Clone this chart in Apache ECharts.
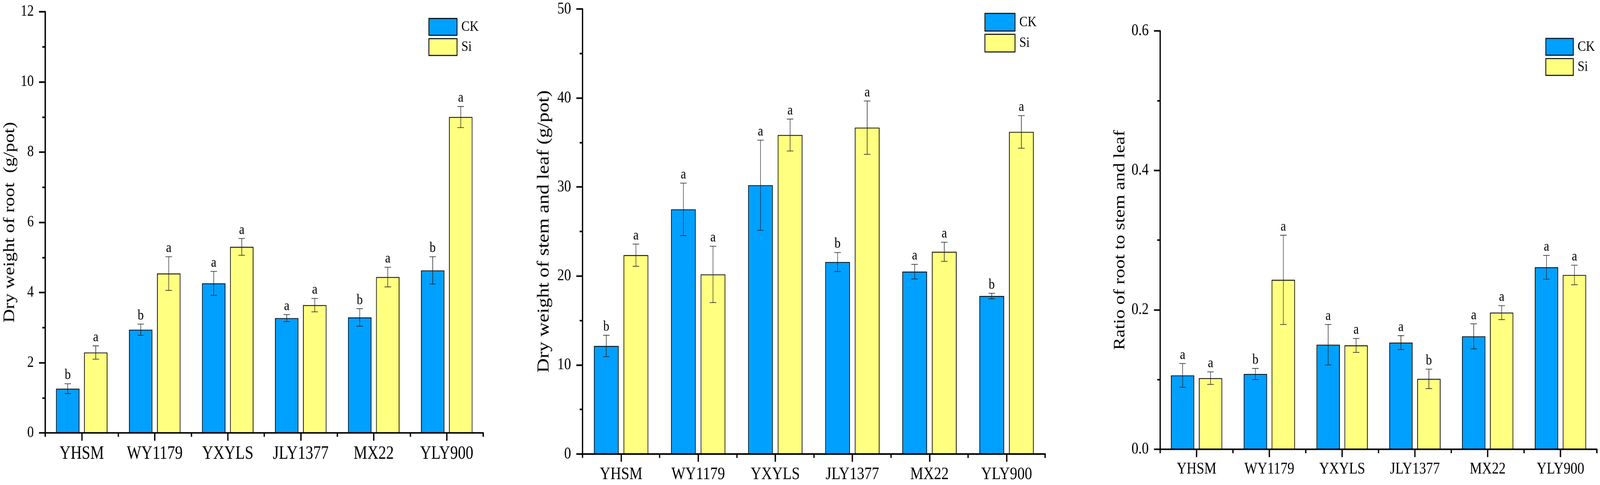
<!DOCTYPE html>
<html>
<head>
<meta charset="utf-8">
<script src="https://cdn.jsdelivr.net/npm/echarts@6/dist/echarts.min.js"></script>
<style>
html,body{margin:0;padding:0;background:#fff;overflow:hidden;}
#wrap{position:fixed;left:0;top:0;width:100vw;height:100vh;overflow:hidden;}
#chart{width:4881px;height:1241px;transform-origin:0 0;}
</style>
</head>
<body>
<div id="wrap"><div id="chart"></div></div>
<script>
const categories = ['YHSM','WY1179','YXYLS','JLY1377','MX22','YLY900'];
const seriesNames = ['CK','Si'];

const rootCK = [1.26, 2.94, 4.26, 3.27, 3.29, 4.63];
const rootCKErr = [0.14, 0.16, 0.34, 0.10, 0.25, 0.39];
const rootSi = [2.29, 4.54, 5.30, 3.64, 4.44, 9.00];
const rootSiErr = [0.19, 0.48, 0.24, 0.19, 0.28, 0.30];
const rootCKSig = ['b','b','a','a','b','b'];
const rootSiSig = ['a','a','a','a','a','a'];

const stemCK = [12.14, 27.49, 30.20, 21.57, 20.49, 17.75];
const stemCKErr = [1.20, 2.95, 5.06, 1.07, 0.82, 0.31];
const stemSi = [22.34, 20.18, 35.84, 36.67, 22.72, 36.19];
const stemSiErr = [1.25, 3.17, 1.80, 3.00, 1.08, 1.83];
const stemCKSig = ['b','a','a','b','a','b'];
const stemSiSig = ['a','a','a','a','a','a'];

const ratioCK = [0.106, 0.108, 0.150, 0.153, 0.162, 0.261];
const ratioCKErr = [0.017, 0.008, 0.029, 0.010, 0.018, 0.017];
const ratioSi = [0.102, 0.243, 0.149, 0.101, 0.196, 0.250];
const ratioSiErr = [0.009, 0.064, 0.010, 0.014, 0.010, 0.014];
const ratioCKSig = ['a','b','a','a','a','a'];
const ratioSiSig = ['a','a','a','b','a','a'];

const yTitles = ['Dry weight of root  (g/pot)', 'Dry weight of stem and leaf (g/pot)', 'Ratio of root to stem and leaf'];
const yMax = [12, 50, 0.6];
const yInterval = [2, 10, 0.2];

const FONT = '"Liberation Serif", "Times New Roman", serif';
const COLORS = ['#00A0FF', '#FFFF80'];
const BAR_W = 0.32, BAR_GAP = 0.2;

const panels = [
  {ck: rootCK, ckE: rootCKErr, si: rootSi, siE: rootSiErr, ckS: rootCKSig, siS: rootSiSig,
   grid: {left:138, top:30, width:1336, height:1077}, tick:40, xl:47, name:48, nameGap:84,
   legend:{left:1307, top:46, w:86, h:43}, fmt: v => String(v)},
  {ck: stemCK, ckE: stemCKErr, si: stemSi, siE: stemSiErr, ckS: stemCKSig, siS: stemSiSig,
   grid: {left:1777, top:23, width:1411, height:1138}, tick:42, xl:45, name:51, nameGap:92,
   legend:{left:3003, top:33, w:92, h:45}, fmt: v => String(v)},
  {ck: ratioCK, ckE: ratioCKErr, si: ratioSi, siE: ratioSiErr, ckS: ratioCKSig, siS: ratioSiSig,
   grid: {left:3539, top:79, width:1332, height:1070}, tick:42, xl:42, name:48, nameGap:98,
   legend:{left:4714, top:97, w:84, h:43}, fmt: v => v.toFixed(1)}
];

function errSeries(pi, means, errs, sigs, side) {
  return {
    type: 'custom',
    name: seriesNames[side] + '-err-' + pi,
    xAxisIndex: pi * 2,
    yAxisIndex: pi,
    z: 5,
    silent: true,
    encode: {x: 0, y: 1},
    data: means.map((m, i) => [i, m, errs[i]]),
    renderItem: function (params, api) {
      const ci = api.value(0), m = api.value(1), e = api.value(2);
      const c = api.coord([ci, m]);
      const bw = api.size([1, 0])[0];
      const w = bw * BAR_W;
      const off = (side === 0 ? -1 : 1) * (w + w * BAR_GAP) / 2;
      const x = c[0] + off;
      const yTop = api.coord([ci, m + e])[1];
      const yBot = api.coord([ci, m - e])[1];
      const cap = 10;
      const st = {stroke: '#222', lineWidth: 1.6};
      return {
        type: 'group',
        children: [
          {type: 'line', shape: {x1: x, y1: yTop, x2: x, y2: yBot}, style: st},
          {type: 'line', shape: {x1: x - cap, y1: yTop, x2: x + cap, y2: yTop}, style: st},
          {type: 'line', shape: {x1: x - cap, y1: yBot, x2: x + cap, y2: yBot}, style: st},
          {type: 'text', x: x, y: yTop - 3, style: {
            text: sigs[params.dataIndex], fill: '#000', fontSize: 37, fontFamily: FONT,
            align: 'center', verticalAlign: 'bottom'}}
        ]
      };
    }
  };
}

const option = {
  backgroundColor: '#fff',
  animation: false,
  grid: [], xAxis: [], yAxis: [], series: [], legend: []
};

panels.forEach((p, pi) => {
  option.grid.push(Object.assign({containLabel: false}, p.grid));
  option.xAxis.push({
    type: 'category', gridIndex: pi, data: categories, position: 'bottom',
    axisLine: {show: true, lineStyle: {color: '#000', width: 4}},
    axisTick: {show: true, alignWithLabel: true, length: 20, lineStyle: {color: '#000', width: 4}},
    axisLabel: {color: '#000', fontSize: p.xl, fontFamily: FONT, margin: 30},
    splitLine: {show: false}
  });
  option.xAxis.push({
    type: 'category', gridIndex: pi, data: categories, position: 'bottom',
    axisLine: {show: false},
    axisTick: {show: true, alignWithLabel: false, length: 10, lineStyle: {color: '#000', width: 4}},
    axisLabel: {show: false},
    splitLine: {show: false}
  });
  option.yAxis.push({
    type: 'value', gridIndex: pi, min: 0, max: yMax[pi], interval: yInterval[pi],
    name: yTitles[pi], nameLocation: 'middle', nameGap: p.nameGap,
    nameTextStyle: {color: '#000', fontSize: p.name, fontFamily: FONT},
    axisLine: {show: true, lineStyle: {color: '#000', width: 4}},
    axisTick: {show: true, length: 19, lineStyle: {color: '#000', width: 4}},
    minorTick: {show: true, splitNumber: 2, length: 9, lineStyle: {color: '#000', width: 4}},
    axisLabel: {color: '#000', fontSize: p.tick, fontFamily: FONT, margin: 35, formatter: p.fmt},
    splitLine: {show: false}, minorSplitLine: {show: false}
  });
  [p.ck, p.si].forEach((vals, side) => {
    option.series.push({
      type: 'bar', name: seriesNames[side], xAxisIndex: pi * 2, yAxisIndex: pi,
      data: vals, barWidth: (BAR_W * 100) + '%', barGap: (BAR_GAP * 100) + '%',
      itemStyle: {color: COLORS[side], borderColor: '#000', borderWidth: 2},
      z: 2
    });
  });
  option.series.push(errSeries(pi, p.ck, p.ckE, p.ckS, 0));
  option.series.push(errSeries(pi, p.si, p.siE, p.siS, 1));
  option.legend.push({
    data: seriesNames, orient: 'vertical', left: p.legend.left, top: p.legend.top,
    itemWidth: p.legend.w, itemHeight: p.legend.h, itemGap: 6, icon: 'rect',
    padding: 0, selectedMode: false,
    itemStyle: {borderColor: '#000', borderWidth: 2.5},
    textStyle: {color: '#000', fontSize: 38, fontFamily: FONT, padding: [0, 0, 0, 8]}
  });
});

const el = document.getElementById('chart');
const vw = window.innerWidth || document.documentElement.clientWidth || 4881;
const vh = window.innerHeight || document.documentElement.clientHeight || 1241;
const sx = vw / 4881, sy = vh / 1241;
if (Math.abs(sx - 1) > 0.001 || Math.abs(sy - 1) > 0.001) {
  el.style.transform = 'scale(' + sx + ',' + sy + ')';
}
const dpr = (window.devicePixelRatio || 1) * Math.max(1, 1 / Math.min(sx, sy));
const chart = echarts.init(el, null, {renderer: 'canvas', devicePixelRatio: dpr});
chart.setOption(option);
</script>
</body>
</html>
